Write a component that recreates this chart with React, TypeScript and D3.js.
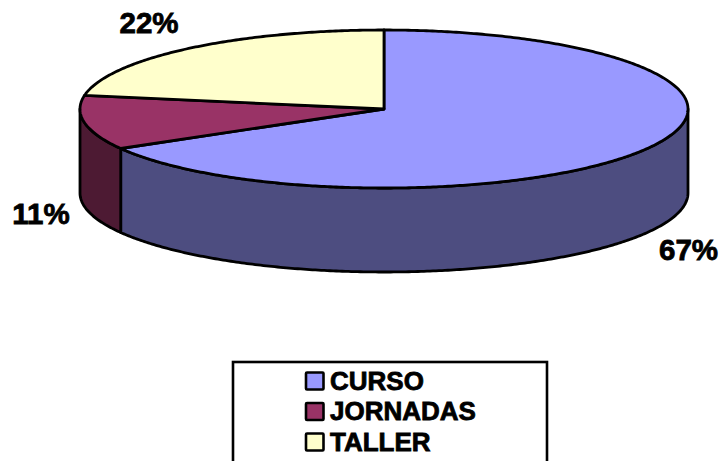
import React from "react";
import * as d3 from "d3";

const categories = ["CURSO", "JORNADAS", "TALLER"];
const values = [6, 1, 2];
const topColors = ["#9999FF", "#993366", "#FFFFCC"];
const sideColors = ["#4D4D80", "#4D1A33", "#808066"];
const labelAnchors = [
  { x: 688.5, y: 260 },
  { x: 41, y: 224 },
  { x: 149, y: 33 },
];

const cx = 384, cy = 109, rx = 304, ry = 79, depth = 84;
const FONT = "'Liberation Sans', Arial, sans-serif";

const xScale = d3.scaleLinear().domain([-1, 1]).range([cx - rx, cx + rx]);
const yScale = d3.scaleLinear().domain([-1, 1]).range([cy - ry, cy + ry]);

const pt = (t: number, dy = 0): [number, number] => [xScale(Math.sin(t)), yScale(-Math.cos(t)) + dy];
const samples = (a: number, b: number) => {
  const n = Math.max(2, Math.ceil(Math.abs(b - a) / 0.01));
  return d3.range(n + 1).map((i) => a + ((b - a) * i) / n);
};
const line = d3.line();

export default function App() {
  const arcs = d3.pie<number>().sort(null)(values);
  const total = d3.sum(values);
  const sides = arcs
    .map((a, i) => ({ i, a0: Math.max(a.startAngle, Math.PI / 2), a1: Math.min(a.endAngle, (3 * Math.PI) / 2) }))
    .filter((s) => s.a1 > s.a0);
  return (
    <svg width={723} height={461} style={{ position: "absolute", left: 0, top: 0, background: "#fff" }}>
      {sides.map((s) => {
        const top = samples(s.a0, s.a1).map((t) => pt(t));
        const bottom = samples(s.a1, s.a0).map((t) => pt(t, depth));
        return (
          <path key={s.i} d={line([...top, ...bottom])! + "Z"} fill={sideColors[s.i]} stroke="#000" strokeWidth={2.8} strokeLinejoin="round" />
        );
      })}
      {arcs.map((a, i) => {
        const pts = [[cx, cy] as [number, number], ...samples(a.startAngle, a.endAngle).map((t) => pt(t))];
        return <path key={i} d={line(pts)! + "Z"} fill={topColors[i]} stroke="#000" strokeWidth={2.8} strokeLinejoin="round" />;
      })}
      {arcs.map((a, i) => (
        <text key={i} x={labelAnchors[i].x} y={labelAnchors[i].y} textAnchor="middle" fontFamily={FONT} fontWeight="bold" fontSize={29.5} fill="#000" stroke="#000" strokeWidth={0.8}>
          {Math.round(((a.value as number) / total) * 100)}%
        </text>
      ))}
      <rect x={233} y={362} width={314} height={120} fill="#fff" stroke="#000" strokeWidth={2.6} />
      {categories.map((c, i) => (
        <g key={c}>
          <rect x={306} y={372.5 + i * 30.5} width={17.5} height={17} fill={topColors[i]} stroke="#000" strokeWidth={2.6} rx={1} />
          <text x={330} y={389.5 + i * 30.9} fontFamily={FONT} fontWeight="bold" fontSize={26} fill="#000" stroke="#000" strokeWidth={0.8}>{c}</text>
        </g>
      ))}
    </svg>
  );
}
